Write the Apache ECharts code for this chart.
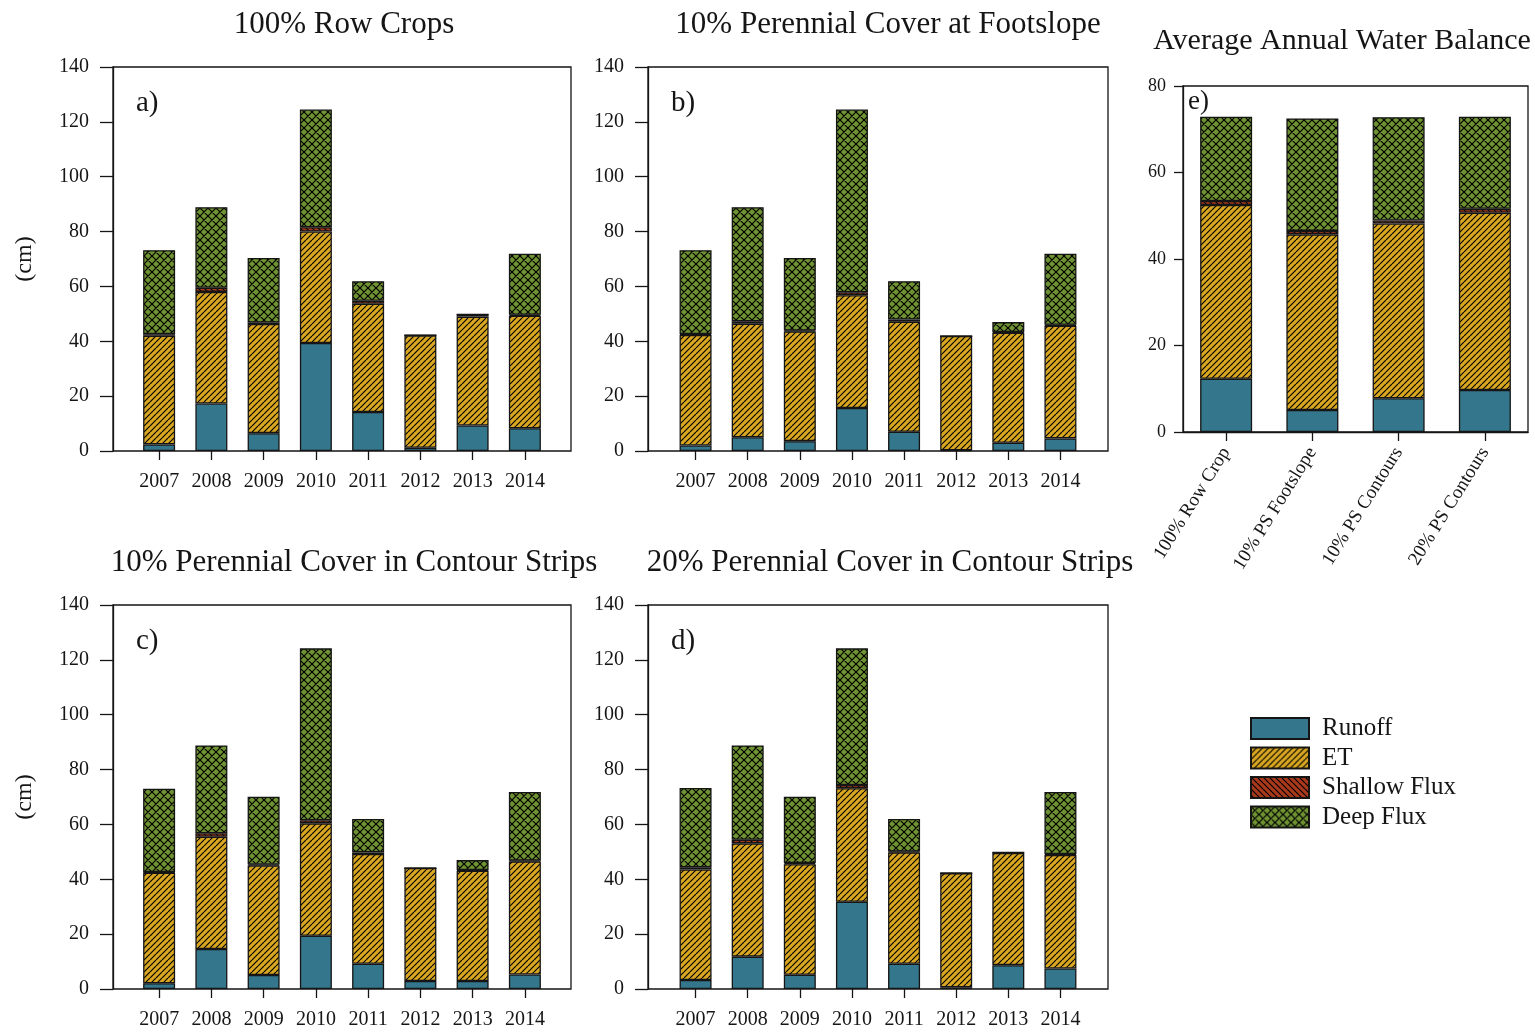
<!DOCTYPE html>
<html>
<head>
<meta charset="utf-8">
<script src="https://cdn.jsdelivr.net/npm/echarts@6/dist/echarts.min.js"></script>
<style>
  html, body { margin: 0; padding: 0; background: #ffffff; }
  #chart { width: 1535px; height: 1032px; }
</style>
</head>
<body>
<div id="chart"></div>
<script>
// ---- Data (cm) ----
const yearLabels = ['2007', '2008', '2009', '2010', '2011', '2012', '2013', '2014'];

// a) 100% Row Crops
const runoffA  = [2.4, 17.3, 6.5, 39.4, 14.2, 1.2, 9.3, 8.3];
const etA      = [39.6, 40.7, 39.8, 40.6, 39.5, 40.9, 39.7, 41.0];
const shallowA = [0.6, 1.5, 0.5, 1.6, 1.1, 0.1, 0.8, 0.4];
const deepA    = [30.6, 29.4, 23.6, 42.9, 7.1, 0, 0, 22.2];

// b) 10% Perennial Cover at Footslope
const runoffB  = [2.0, 5.0, 3.6, 15.7, 7.0, 0.3, 3.0, 4.6];
const etB      = [40.3, 41.4, 40.0, 41.1, 40.1, 41.6, 40.1, 41.1];
const shallowB = [0.3, 0.9, 0.3, 1.1, 0.8, 0, 0.3, 0.3];
const deepB    = [30.6, 41.6, 26.5, 66.6, 14.0, 0, 3.6, 25.9];

// c) 10% Perennial Cover in Contour Strips
const runoffC  = [2.1, 14.6, 5.1, 19.4, 9.2, 2.9, 2.9, 5.3];
const etC      = [40.3, 40.9, 39.9, 41.0, 40.0, 41.2, 40.2, 41.2];
const shallowC = [0.2, 1.3, 0.4, 1.1, 0.6, 0, 0.3, 0.3];
const deepC    = [30.4, 32.0, 24.7, 62.7, 12.2, 0, 3.6, 25.0];

// d) 20% Perennial Cover in Contour Strips
const runoffD  = [3.3, 11.8, 5.2, 31.8, 9.2, 0.6, 8.7, 7.5];
const etD      = [40.3, 41.3, 40.3, 41.4, 40.6, 41.6, 40.9, 41.4];
const shallowD = [0.8, 1.3, 0.4, 1.2, 0.3, 0, 0.2, 0.3];
const deepD    = [28.9, 34.4, 24.2, 49.8, 11.9, 0, 0, 22.6];

// e) Average annual water balance per scenario
const scenarios = ['100% Row Crop', '10% PS Footslope', '10% PS Contours', '20% PS Contours'];
const runoffE  = [12.3, 5.1, 7.8, 9.7];
const etE      = [40.2, 40.6, 40.4, 41.0];
const shallowE = [0.9, 0.8, 0.7, 0.9];
const deepE    = [19.5, 26.0, 23.9, 21.3];

const componentNames = ['Runoff', 'ET', 'Shallow Flux', 'Deep Flux'];
const panelTitles = ['100% Row Crops', '10% Perennial Cover at Footslope',
                     '10% Perennial Cover in Contour Strips', '20% Perennial Cover in Contour Strips',
                     'Average Annual Water Balance'];
const panelLetters = ['a)', 'b)', 'c)', 'd)', 'e)'];

// ---- Hatch fills ----
const FONT = '"Liberation Serif", "Times New Roman", serif';
const INK = '#151515';

function hatch(bg, size, dirs, lw) {
  const c = document.createElement('canvas');
  c.width = size; c.height = size;
  const g = c.getContext('2d');
  g.fillStyle = bg;
  g.fillRect(0, 0, size, size);
  g.strokeStyle = '#000';
  g.lineWidth = lw;
  g.beginPath();
  dirs.forEach(function (d) {
    for (let k = -1; k <= 1; k++) {
      if (d === '/') { g.moveTo(k * size, size); g.lineTo(k * size + size, 0); }
      else { g.moveTo(k * size, 0); g.lineTo(k * size + size, size); }
    }
  });
  g.stroke();
  return { image: c, repeat: 'repeat' };
}

const fills = {
  'Runoff': '#34768C',
  'ET': hatch('#D9A621', 6, ['/'], 1.15),
  'Shallow Flux': hatch('#A8391B', 6, ['\\'], 1.15),
  'Deep Flux': hatch('#6F9232', 8, ['/', '\\'], 1.2)
};

// ---- Layout ----
// Outer plot frames (drawn as grid borders) for a-d, and the inner
// category bands that hold the eight years inside each frame.
const frames = [
  { left: 113, top: 67,  width: 458, height: 384 },
  { left: 648, top: 67,  width: 460, height: 384 },
  { left: 113, top: 605, width: 458, height: 384 },
  { left: 648, top: 605, width: 460, height: 384 }
];
const bandInset = [20, 21.5, 20, 21.5];
const frameE = { left: 1183, top: 86, width: 345, height: 346 };

const grids = [];
frames.forEach(function (f, i) {
  grids.push({ show: false, left: f.left + bandInset[i], top: f.top,
               width: f.width - 2 * bandInset[i], height: f.height });
});
grids.push(Object.assign({ show: true, borderColor: INK, borderWidth: 1.3, backgroundColor: 'transparent' }, frameE));
frames.forEach(function (f) {
  grids.push(Object.assign({ show: true, borderColor: INK, borderWidth: 1.3, backgroundColor: 'transparent' }, f));
});

const axisLineStyle = { color: INK, width: 1.3 };

const xAxes = [];
const yAxes = [];
for (let i = 0; i < 4; i++) {
  xAxes.push({
    type: 'category', gridIndex: i, data: yearLabels,
    axisLine: { show: false },
    axisTick: { show: true, alignWithLabel: true, length: 9, lineStyle: axisLineStyle },
    axisLabel: { interval: 0, margin: 21, fontFamily: FONT, fontSize: 20, color: INK },
    splitLine: { show: false }
  });
  yAxes.push({
    type: 'value', gridIndex: i, min: 0, max: 140, interval: 20, offset: bandInset[i],
    axisLine: { show: true, lineStyle: axisLineStyle },
    axisTick: { show: true, length: 13, lineStyle: axisLineStyle },
    axisLabel: { margin: 24, fontFamily: FONT, fontSize: 20, color: INK },
    splitLine: { show: false },
    name: (i === 0 || i === 2) ? '(cm)' : '',
    nameLocation: 'middle', nameRotate: 90, nameGap: 76,
    nameTextStyle: { fontFamily: FONT, fontSize: 24, color: INK }
  });
}
xAxes.push({
  type: 'category', gridIndex: 4, data: scenarios,
  axisLine: { show: true, lineStyle: axisLineStyle },
  axisTick: { show: true, alignWithLabel: true, length: 9, lineStyle: axisLineStyle },
  axisLabel: { interval: 0, rotate: 58, margin: 17, fontFamily: FONT, fontSize: 19, color: INK },
  splitLine: { show: false }
});
yAxes.push({
  type: 'value', gridIndex: 4, min: 0, max: 80, interval: 20,
  axisLine: { show: true, lineStyle: axisLineStyle },
  axisTick: { show: true, length: 9, lineStyle: axisLineStyle },
  axisLabel: { margin: 17, fontFamily: FONT, fontSize: 18, color: INK },
  splitLine: { show: false }
});
// hidden axes that carry the frame grids
for (let i = 0; i < 4; i++) {
  xAxes.push({ type: 'value', gridIndex: 5 + i, show: false, min: 0, max: 1 });
  yAxes.push({ type: 'value', gridIndex: 5 + i, show: false, min: 0, max: 1 });
}

// ---- Stacked bar series ----
const series = [];
function addPanel(idx, parts, barWidth) {
  componentNames.forEach(function (name, k) {
    series.push({
      name: name, type: 'bar', stack: 'panel' + idx,
      xAxisIndex: idx, yAxisIndex: idx, barWidth: barWidth,
      data: parts[k],
      itemStyle: { color: fills[name], borderColor: INK, borderWidth: 1.3 },
      emphasis: { disabled: true },
      animation: false
    });
  });
}
addPanel(0, [runoffA, etA, shallowA, deepA], 32);
addPanel(1, [runoffB, etB, shallowB, deepB], 32);
addPanel(2, [runoffC, etC, shallowC, deepC], 32);
addPanel(3, [runoffD, etD, shallowD, deepD], 32);
addPanel(4, [runoffE, etE, shallowE, deepE], 52);

// ---- Titles and panel letters ----
const titlePos = [[344, 25], [888, 25], [354, 563], [890, 563], [1342, 41]];
const letterPos = [[136, 103], [671, 103], [136, 641], [671, 641], [1188, 102]];
const graphics = [];
panelTitles.forEach(function (t, i) {
  graphics.push({
    type: 'text', x: titlePos[i][0], y: titlePos[i][1], silent: true,
    style: { text: t, font: (i === 4 ? 30 : 31) + 'px ' + FONT, fill: INK, textAlign: 'center', textVerticalAlign: 'middle' }
  });
});
panelLetters.forEach(function (t, i) {
  graphics.push({
    type: 'text', x: letterPos[i][0], y: letterPos[i][1], silent: true,
    style: { text: t, font: (i === 4 ? 27 : 29) + 'px ' + FONT, fill: INK, textAlign: 'left', textVerticalAlign: 'middle' }
  });
});

const chart = echarts.init(document.getElementById('chart'), null, { renderer: 'canvas' });
chart.setOption({
  backgroundColor: '#ffffff',
  animation: false,
  grid: grids,
  xAxis: xAxes,
  yAxis: yAxes,
  series: series,
  graphic: graphics,
  legend: {
    data: componentNames, orient: 'vertical', left: 1245, top: 711,
    itemWidth: 58, itemHeight: 21, itemGap: 4.5, icon: 'rect', selectedMode: false,
    textStyle: { fontFamily: FONT, fontSize: 25, color: INK, padding: [0, 0, 0, 8] }
  }
});
</script>
</body>
</html>
